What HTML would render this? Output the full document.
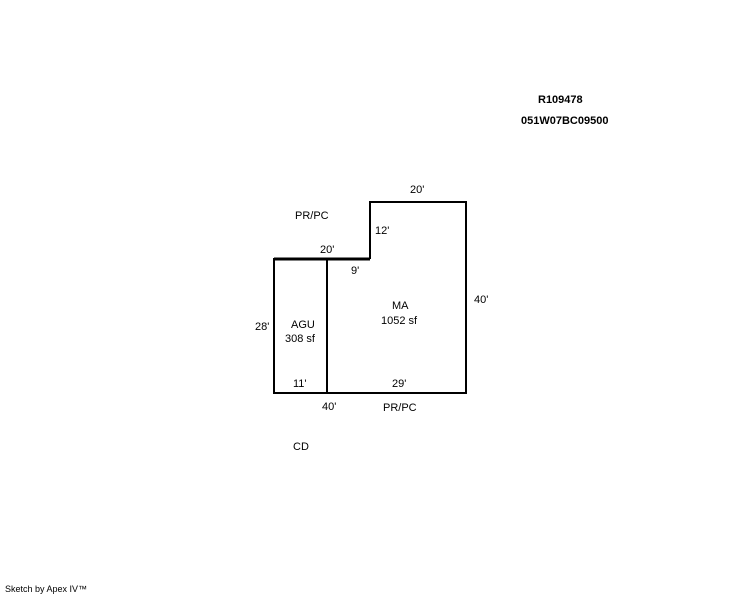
<!DOCTYPE html>
<html><head><style>
body{margin:0;background:#fff;}
svg text{font-family:"Liberation Sans",Arial,sans-serif;font-size:11px;fill:#000;}
</style></head><body>
<svg width="744" height="595" xmlns="http://www.w3.org/2000/svg">
<g fill="none" stroke="#000" stroke-width="2">
<polyline points="370,259 370,202 466,202 466,393 274,393 274,259 370,259"/>
<line x1="327" y1="259" x2="327" y2="393"/>
<line x1="274" y1="259" x2="370" y2="259" stroke-width="3"/>
</g>
<text x="538" y="103" font-weight="bold">R109478</text>
<text x="521" y="124" font-weight="bold">051W07BC09500</text>
<text x="410" y="193">20'</text>
<text x="295" y="219">PR/PC</text>
<text x="375" y="234">12'</text>
<text x="320" y="253">20'</text>
<text x="351" y="274">9'</text>
<text x="474" y="303">40'</text>
<text x="392" y="309">MA</text>
<text x="381" y="324">1052 sf</text>
<text x="255" y="330">28'</text>
<text x="291" y="328">AGU</text>
<text x="285" y="342">308 sf</text>
<text x="293" y="387">11'</text>
<text x="392" y="387">29'</text>
<text x="322" y="410">40'</text>
<text x="383" y="411">PR/PC</text>
<text x="293" y="450">CD</text>
<text x="5" y="592" style="font-size:9px">Sketch by Apex IV™</text>
</svg>
</body></html>
